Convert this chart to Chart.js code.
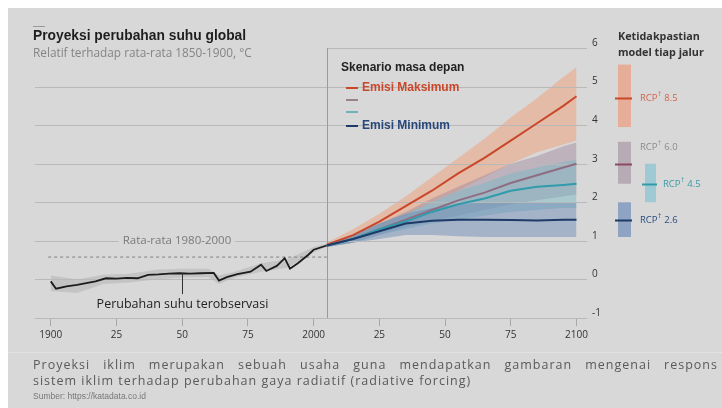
<!DOCTYPE html>
<html>
<head>
<meta charset="utf-8">
<script src="https://cdn.jsdelivr.net/npm/chart.js@4.4.1/dist/chart.umd.min.js"></script>
<style>
  html, body { margin: 0; padding: 0; background: #fff; }
  #wrap { position: relative; width: 722px; height: 408px; overflow: hidden; font-family: "Liberation Sans", Arial, sans-serif; }
  #bg { position: absolute; left: 8px; top: 8px; right: 0; bottom: 0; background: #d8d8d8; }
  #chart { position: absolute; left: 0; top: 0; }
  .t { position: absolute; white-space: nowrap; }
  .title { left: 33px; top: 28px; font-size: 13.8px; font-weight: bold; color: #1e1e1e; }
  .dash { position: absolute; left: 33px; top: 26px; width: 12px; height: 1px; background: #999; }
  .sub { left: 33px; top: 44px; font-size: 11.8px; color: #858585; font-family: "Open Sans", sans-serif; }
  .lgh { left: 341px; top: 60px; font-size: 12px; font-weight: bold; color: #222; }
  .lgi { left: 346px; font-size: 12px; font-weight: bold; height: 14px; line-height: 14px; }
  .lgi i { display: inline-block; width: 12px; height: 2px; vertical-align: middle; margin-right: 4px; }
  .rh { left: 618px; top: 28px; font-size: 10.8px; font-weight: bold; color: #333; line-height: 16px; font-family: "Open Sans", sans-serif; }
  .sep { position: absolute; left: 8px; right: 0; top: 352px; height: 1px; background: #e2e2e2; }
  .note { left: 33px; width: 685px; font-size: 12.5px; letter-spacing: 1px; color: #5a5a5a; font-family: "Open Sans", sans-serif; }
  .j { text-align: justify; text-align-last: justify; white-space: normal; }
  .src { left: 33px; top: 391px; font-size: 8.5px; color: #777; }
</style>
</head>
<body>
<div id="wrap">
  <div id="bg"></div>
  <div class="sep"></div>
  <canvas id="chart" width="722" height="408"></canvas>
  <div class="dash"></div>
  <div class="t title">Proyeksi perubahan suhu global</div>
  <div class="t sub">Relatif terhadap rata-rata 1850-1900, °C</div>
  <div class="t lgh">Skenario masa depan</div>
  <div class="t lgi" style="top:80px;color:#c9472b"><i style="background:#c9472b"></i>Emisi Maksimum</div>
  <div class="t lgi" style="top:92px"><i style="background:#9c8092"></i></div>
  <div class="t lgi" style="top:104px"><i style="background:#6fb0bb"></i></div>
  <div class="t lgi" style="top:118px;color:#27467a"><i style="background:#1e3a66"></i>Emisi Minimum</div>
  <div class="t rh">Ketidakpastian<br>model tiap jalur</div>
  <div class="t note j" style="top:356px">Proyeksi iklim merupakan sebuah usaha guna mendapatkan gambaran mengenai respons</div>
  <div class="t note" style="top:372px">sistem iklim terhadap perubahan gaya radiatif (radiative forcing)</div>
  <div class="t src">Sumber: https://katadata.co.id</div>
</div>
<script>
// ── DATA ──
const xTicks = [1900, 1925, 1950, 1975, 2000, 2025, 2050, 2075, 2100];
const yTicks = [-1, 0, 1, 2, 3, 4, 5, 6];

// observed temperature anomaly
const obsYears = [1900, 1902, 1906, 1910, 1913, 1917, 1921, 1925, 1929, 1933, 1937, 1941, 1945, 1949, 1953, 1957, 1962, 1964, 1967, 1971, 1976, 1980, 1982, 1986, 1989, 1991, 1994, 1998, 2000, 2005];
const obsTemp  = [-0.05, -0.24, -0.18, -0.14, -0.1, -0.05, 0.03, 0.02, 0.04, 0.03, 0.12, 0.13, 0.15, 0.16, 0.15, 0.16, 0.17, -0.03, 0.06, 0.14, 0.2, 0.38, 0.22, 0.35, 0.55, 0.28, 0.42, 0.64, 0.77, 0.88];
const obsBandYears = [1900, 1910, 1920, 1930, 1940, 1950, 1960, 1964, 1970, 1980, 1990, 2000, 2005];
const obsHi = [0.1, 0.0, 0.12, 0.15, 0.25, 0.28, 0.28, 0.1, 0.2, 0.42, 0.52, 0.84, 0.93];
const obsLo = [-0.3, -0.35, -0.12, -0.08, 0.0, 0.05, 0.06, -0.12, 0.05, 0.2, 0.3, 0.7, 0.84];

// average 1980-2000
const avgYears = [1899, 2005];
const avgTemp  = [0.58, 0.58];

// projections
const projYears = [2005, 2015, 2025, 2035, 2045, 2055, 2065, 2075, 2085, 2095, 2100];
const rcp85   = [0.9, 1.15, 1.5, 1.9, 2.3, 2.75, 3.15, 3.6, 4.05, 4.5, 4.75];
const rcp85Hi = [0.95, 1.3, 1.7, 2.15, 2.65, 3.15, 3.65, 4.2, 4.7, 5.25, 5.5];
const rcp85Lo = [0.85, 1.0, 1.3, 1.65, 2.0, 2.3, 2.65, 3.0, 3.3, 3.5, 3.6];
const rcp60   = [0.88, 1.05, 1.3, 1.55, 1.8, 2.05, 2.25, 2.5, 2.7, 2.9, 3.0];
const rcp60Hi = [0.92, 1.15, 1.45, 1.75, 2.1, 2.4, 2.7, 3.0, 3.2, 3.45, 3.55];
const rcp60Lo = [0.84, 0.95, 1.15, 1.35, 1.5, 1.65, 1.8, 1.95, 2.05, 2.15, 2.2];
const rcp45   = [0.88, 1.05, 1.3, 1.5, 1.75, 1.95, 2.1, 2.3, 2.4, 2.45, 2.48];
const rcp45Hi = [0.92, 1.15, 1.45, 1.7, 2.0, 2.3, 2.5, 2.75, 2.9, 3.05, 3.1];
const rcp45Lo = [0.84, 0.95, 1.15, 1.3, 1.45, 1.55, 1.65, 1.75, 1.8, 1.85, 1.85];
const rcp26   = [0.88, 1.05, 1.25, 1.45, 1.52, 1.55, 1.55, 1.54, 1.53, 1.55, 1.55];
const rcp26Hi = [0.92, 1.15, 1.45, 1.7, 1.85, 1.95, 2.0, 2.0, 2.0, 2.0, 2.0];
const rcp26Lo = [0.84, 0.95, 1.05, 1.15, 1.15, 1.12, 1.1, 1.1, 1.1, 1.1, 1.1];

// model uncertainty per pathway (2100)
const rcpNames = ['8.5', '6.0', '4.5', '2.6'];
const rcpLow   = [3.95, 2.48, 2.0, 1.1];
const rcpHigh  = [5.57, 3.57, 3.0, 2.0];
const rcpMid   = [4.7, 3.0, 2.48, 1.54];

// ── STYLE ──
const C = {
  r85: '#c9472b', r60: '#8e6d83', r45: '#2f9bab', r26: '#1e3a66', obs: '#1c1c1c',
  b85: 'rgba(240,158,118,0.5)', b60: 'rgba(160,135,158,0.45)',
  b45: 'rgba(115,185,196,0.45)', b26: 'rgba(105,135,182,0.45)', bObs: 'rgba(150,150,150,0.3)',
  grid: '#b9b9b9', bg: '#d8d8d8'
};
const panel = [
  { x: 618, w: 13, bar: 'rgba(236,155,125,0.7)', tx: 640, dy: 0,   text: '#d0654a' },
  { x: 618, w: 13, bar: 'rgba(178,165,175,0.85)', tx: 640, dy: -17, text: '#8c8c8c' },
  { x: 645, w: 11, bar: 'rgba(150,200,210,0.85)', tx: 663, dy: 0,   text: '#3a9aa8' },
  { x: 618, w: 13, bar: 'rgba(130,155,190,0.85)', tx: 640, dy: 0,   text: '#2a4a80' }
];
const panelLine = [C.r85, '#8a4a60', C.r45, C.r26];

const pts = (xs, ys) => xs.map((x, i) => ({ x, y: ys[i] }));
const line = (data, color, w) => ({ data, borderColor: color, borderWidth: w, pointRadius: 0, fill: false, tension: 0 });
const hi = data => ({ data, borderWidth: 0, pointRadius: 0, fill: false, borderColor: 'transparent' });
const lo = (data, color) => ({ data, borderWidth: 0, pointRadius: 0, borderColor: 'transparent', fill: '-1', backgroundColor: color });

// ── DECORATION PLUGIN ──
const decor = {
  id: 'decor',
  beforeDatasetsDraw(chart) {
    const { ctx, chartArea: a, scales: { x, y } } = chart;
    ctx.save();
    ctx.strokeStyle = C.grid;
    ctx.lineWidth = 1;
    yTicks.forEach(v => {
      const py = Math.round(y.getPixelForValue(v)) + 0.5;
      const x0 = v === 6 ? x.getPixelForValue(2005) : a.left;
      ctx.beginPath(); ctx.moveTo(x0, py); ctx.lineTo(a.right, py); ctx.stroke();
    });
    // 2005 divider
    const vx = Math.round(x.getPixelForValue(2005)) + 0.5;
    ctx.strokeStyle = '#9a9a9a';
    ctx.beginPath(); ctx.moveTo(vx, a.top); ctx.lineTo(vx, a.bottom); ctx.stroke();
    // average label on gridline
    ctx.font = '11.5px "Open Sans"';
    const lbl = 'Rata-rata 1980-2000';
    const lw = ctx.measureText(lbl).width;
    const lx = x.getPixelForValue(1948), ly = y.getPixelForValue(1);
    ctx.fillStyle = C.bg;
    ctx.fillRect(lx - lw / 2 - 4, ly - 6, lw + 8, 12);
    ctx.fillStyle = '#7a7a7a';
    ctx.textAlign = 'center'; ctx.textBaseline = 'middle';
    ctx.fillText(lbl, lx, ly);
    ctx.restore();
  },
  afterDatasetsDraw(chart) {
    const { ctx, scales: { x, y } } = chart;
    ctx.save();
    // pointer to observed line
    const px = Math.round(x.getPixelForValue(1950)) + 0.5;
    ctx.strokeStyle = '#333'; ctx.lineWidth = 1;
    ctx.beginPath(); ctx.moveTo(px, y.getPixelForValue(0.16)); ctx.lineTo(px, y.getPixelForValue(-0.38)); ctx.stroke();
    ctx.fillStyle = '#222';
    ctx.font = '12.5px "Open Sans"';
    ctx.textAlign = 'center'; ctx.textBaseline = 'middle';
    ctx.fillText('Perubahan suhu terobservasi', px, y.getPixelForValue(-0.66));

    // uncertainty bars
    ctx.textAlign = 'left';
    rcpNames.forEach((n, i) => {
      const p = panel[i];
      const top = y.getPixelForValue(rcpHigh[i]), bot = y.getPixelForValue(rcpLow[i]);
      ctx.fillStyle = p.bar;
      ctx.fillRect(p.x, top, p.w, bot - top);
      const my = Math.round(y.getPixelForValue(rcpMid[i])) + 0.5;
      ctx.strokeStyle = panelLine[i]; ctx.lineWidth = 2;
      ctx.beginPath(); ctx.moveTo(p.x - 3, my); ctx.lineTo(p.x + p.w + 1, my); ctx.stroke();
      // label RCP† x.x
      const ty = my + p.dy;
      ctx.fillStyle = p.text;
      ctx.font = '9.5px "Open Sans"';
      ctx.fillText('RCP', p.tx, ty);
      const w1 = ctx.measureText('RCP').width;
      ctx.font = '6.5px "Open Sans"';
      ctx.fillText('†', p.tx + w1 + 0.5, ty - 4);
      const w2 = ctx.measureText('†').width;
      ctx.font = '9.5px "Open Sans"';
      ctx.fillText(' ' + n, p.tx + w1 + w2 + 1, ty);
    });
    ctx.restore();
  }
};

// ── CHART ──
new Chart(document.getElementById('chart'), {
  type: 'line',
  data: {
    datasets: [
      line(pts(projYears, rcp26), C.r26, 2),
      line(pts(projYears, rcp45), C.r45, 2),
      line(pts(projYears, rcp60), C.r60, 2),
      line(pts(projYears, rcp85), C.r85, 2),
      line(pts(obsYears, obsTemp), C.obs, 1.8),
      Object.assign(line(pts(avgYears, avgTemp), '#808080', 1), { borderDash: [3, 3] }),
      hi(pts(projYears, rcp26Hi)), lo(pts(projYears, rcp26Lo), C.b26),
      hi(pts(projYears, rcp45Hi)), lo(pts(projYears, rcp45Lo), C.b45),
      hi(pts(projYears, rcp60Hi)), lo(pts(projYears, rcp60Lo), C.b60),
      hi(pts(projYears, rcp85Hi)), lo(pts(projYears, rcp85Lo), C.b85),
      hi(pts(obsBandYears, obsHi)), lo(pts(obsBandYears, obsLo), C.bObs)
    ]
  },
  options: {
    responsive: false,
    animation: false,
    layout: { padding: { left: 35, right: 115, top: 48, bottom: 0 } },
    plugins: {
      legend: { display: false },
      tooltip: { enabled: false },
      filler: { drawTime: 'beforeDatasetsDraw', propagate: false }
    },
    scales: {
      x: {
        type: 'linear', min: 1894, max: 2104,
        afterBuildTicks: s => { s.ticks = xTicks.map(v => ({ value: v })); },
        afterFit: s => { s.height = 90; },
        grid: { drawOnChartArea: false, drawTicks: true, tickLength: 8, color: '#a8a8a8' },
        border: { display: false },
        ticks: {
          autoSkip: false, maxRotation: 0, padding: 3, color: '#333',
          font: { family: 'Open Sans', size: 10 },
          callback: v => v % 100 === 0 ? String(v) : String(v % 100)
        }
      },
      y: {
        type: 'linear', position: 'right', min: -1, max: 6,
        afterBuildTicks: s => { s.ticks = yTicks.map(v => ({ value: v })); },
        afterFit: s => { s.width = 20; },
        grid: { display: false, drawTicks: false },
        border: { display: false },
        ticks: { color: '#333', padding: 5, labelOffset: -5, font: { family: 'Open Sans', size: 10 } }
      }
    }
  },
  plugins: [decor]
});
</script>
</body>
</html>
